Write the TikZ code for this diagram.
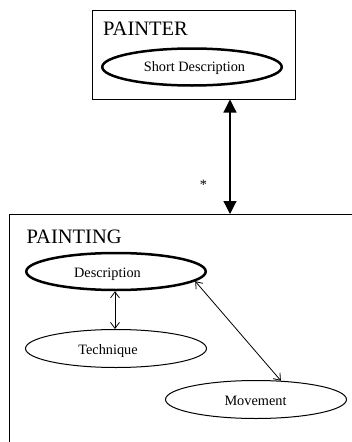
\documentclass[tikz,border=0pt]{standalone}
\usepackage{fontspec}
\setmainfont{Liberation Serif}
\usetikzlibrary{shapes.geometric,arrows.meta}
\tikzset{
  box/.style={draw, line width=1pt},
  thickell/.style={ellipse, draw, line width=2.5pt, minimum width=179.5pt, minimum height=37pt, inner sep=0pt},
  thinell/.style={ellipse, draw, line width=1pt, minimum width=181pt, minimum height=38pt, inner sep=0pt},
  title/.style={font=\fontsize{20.5}{24}\selectfont, inner sep=0pt, anchor=base west},
  lbl/.style={font=\fontsize{14.3}{17}\selectfont, inner sep=0pt, anchor=base},
  assoc/.style={line width=1.2pt, {Triangle[length=13pt,width=13pt]}-{Triangle[length=13pt,width=13pt]}},
  link/.style={line width=0.8pt, {Straight Barb[length=6pt,width=9pt]}-{Straight Barb[length=6pt,width=9pt]}}
}
\begin{document}
\begin{tikzpicture}[x=1pt,y=-1pt]
\useasboundingbox[fill=white] (0,0) rectangle (351,442);
% PAINTER box
\node[box, rectangle, minimum width=203pt, minimum height=89pt, inner sep=0pt] (painter) at (193.5,55) {};
\node[title] (paintertitle) at (103,35.5) {PAINTER};
\node[thickell] (shortd) at (192,67) {};
\node[lbl] (shortdtext) at (194.5,71.5) {Short Description};
% PAINTING box (cut by the picture border)
\coordinate (pgtl) at (9.5,214);
\draw[box] (9.5,445) -- (pgtl) -- (355,214);
\node[title] (paintingtitle) at (26.5,243) {PAINTING};
% connector between the two boxes
\coordinate (ptbot) at (230,99.5);
\coordinate (pgtop) at (230,214);
\draw[assoc] (ptbot) -- (pgtop);
\node[lbl, anchor=center] (mult) at (203.5,185) {*};
% ellipses inside PAINTING
\node[thickell] (desc) at (116,271.5) {};
\node[lbl] (desctext) at (107.5,277) {Description};
\node[thinell] (tech) at (116,348.5) {};
\node[lbl] (techtext) at (108,354) {Technique};
\node[thinell] (move) at (256,399.5) {};
\node[lbl] (movetext) at (255.5,405) {Movement};
% links
\draw[link] ([xshift=-1pt]desc.south) -- ([xshift=-1pt]tech.north);
\draw[link] (desc.-7) -- (move.37);
\end{tikzpicture}
\end{document}
